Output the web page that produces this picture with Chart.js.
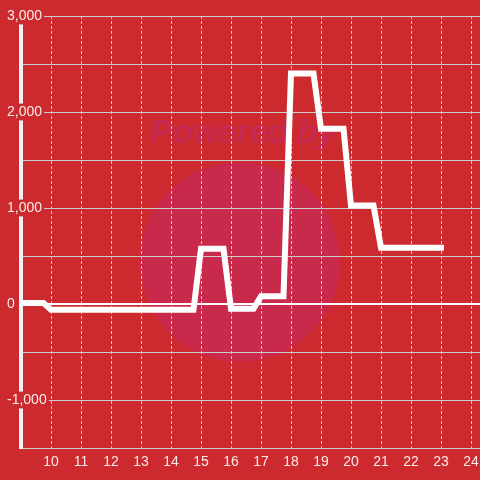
<!DOCTYPE html>
<html>
<head>
<meta charset="utf-8">
<script src="https://cdn.jsdelivr.net/npm/chart.js"></script>
<style>
  html, body { margin: 0; padding: 0; background: #cd2a2f; }
  #wrap { width: 480px; height: 480px; }
</style>
</head>
<body>
<div id="wrap"><canvas id="myChart" width="480" height="480"></canvas></div>
<script>
// Chart data
const hours = [9, 9.75, 10, 14.75, 15, 15.75, 16, 16.75, 17, 17.75, 18, 18.75, 19, 19.75, 20, 20.75, 21, 23.1];
const values = [10, 10, -60, -60, 575, 575, -50, -50, 80, 80, 2400, 2400, 1825, 1825, 1025, 1025, 585, 585];
const yMin = -1500;
const yMax = 3000;
const xMin = 9;
const xMax = 24.3;

const bg = '#cd2a2f';

// Background + faint watermark behind grid
const backdropPlugin = {
    id: 'backdrop',
    beforeDraw(chart) {
        const ctx = chart.ctx;
        ctx.save();
        ctx.fillStyle = bg;
        ctx.fillRect(0, 0, chart.width, chart.height);
        ctx.fillStyle = '#c9294a';
        ctx.beginPath();
        ctx.arc(240, 262, 100, 0, Math.PI * 2);
        ctx.fill();
        ctx.font = 'italic bold 33px "Liberation Sans"';
        ctx.textAlign = 'center';
        ctx.textBaseline = 'middle';
        ctx.fillStyle = '#c62a50';
        ctx.fillText('Powered by', 243, 134);
        ctx.restore();
    }
};

function createChart() {
    const ctx = document.getElementById('myChart').getContext('2d');
    const points = hours.map((h, i) => ({ x: h, y: values[i] }));

    new Chart(ctx, {
        type: 'line',
        data: {
            datasets: [{
                data: points,
                borderColor: '#ffffff',
                borderWidth: 6,
                pointRadius: 0,
                tension: 0,
                fill: false
            }]
        },
        options: {
            responsive: false,
            animation: false,
            layout: { padding: { top: 16, right: 0, bottom: 0, left: 0 } },
            plugins: {
                legend: { display: false },
                tooltip: { enabled: false }
            },
            scales: {
                x: {
                    type: 'linear',
                    min: xMin,
                    max: xMax,
                    afterFit(scale) {
                        scale.height = 32;
                        scale.paddingLeft = 0;
                        scale.paddingRight = 0;
                    },
                    grid: {
                        color: '#cccccc',
                        lineWidth: 1,
                        drawTicks: false
                    },
                    border: { display: true, color: '#cccccc', width: 1, dash: [3, 2] },
                    ticks: {
                        stepSize: 1,
                        includeBounds: false,
                        autoSkip: false,
                        maxRotation: 0,
                        padding: 6,
                        color: 'rgba(255,255,255,0.9)',
                        font: { family: '"Liberation Sans"', size: 14 },
                        callback: v => (v === xMin ? '' : v)
                    }
                },
                y: {
                    min: yMin,
                    max: yMax,
                    afterFit(scale) {
                        scale.width = 21;
                        scale.paddingTop = 0;
                        scale.paddingBottom = 0;
                    },
                    grid: {
                        color: c => (c.tick && c.tick.value === 0 ? '#ffffff' : '#cccccc'),
                        lineWidth: c => (c.tick && c.tick.value === 0 ? 2 : 1),
                        drawTicks: false
                    },
                    border: { display: true, color: '#f2f2f2', width: 4 },
                    ticks: {
                        stepSize: 500,
                        mirror: true,
                        crossAlign: 'near',
                        padding: -14,
                        color: 'rgba(255,255,255,0.9)',
                        font: { family: '"Liberation Sans"', size: 14 },
                        showLabelBackdrop: true,
                        backdropColor: c => (c.tick && c.tick.value % 1000 === 0 ? bg : 'rgba(0,0,0,0)'),
                        backdropPadding: { x: 2, y: 0 },
                        callback: v => (v % 1000 === 0 ? v.toLocaleString('en-US') : '')
                    }
                }
            }
        },
        plugins: [backdropPlugin]
    });
}

createChart();
</script>
</body>
</html>
